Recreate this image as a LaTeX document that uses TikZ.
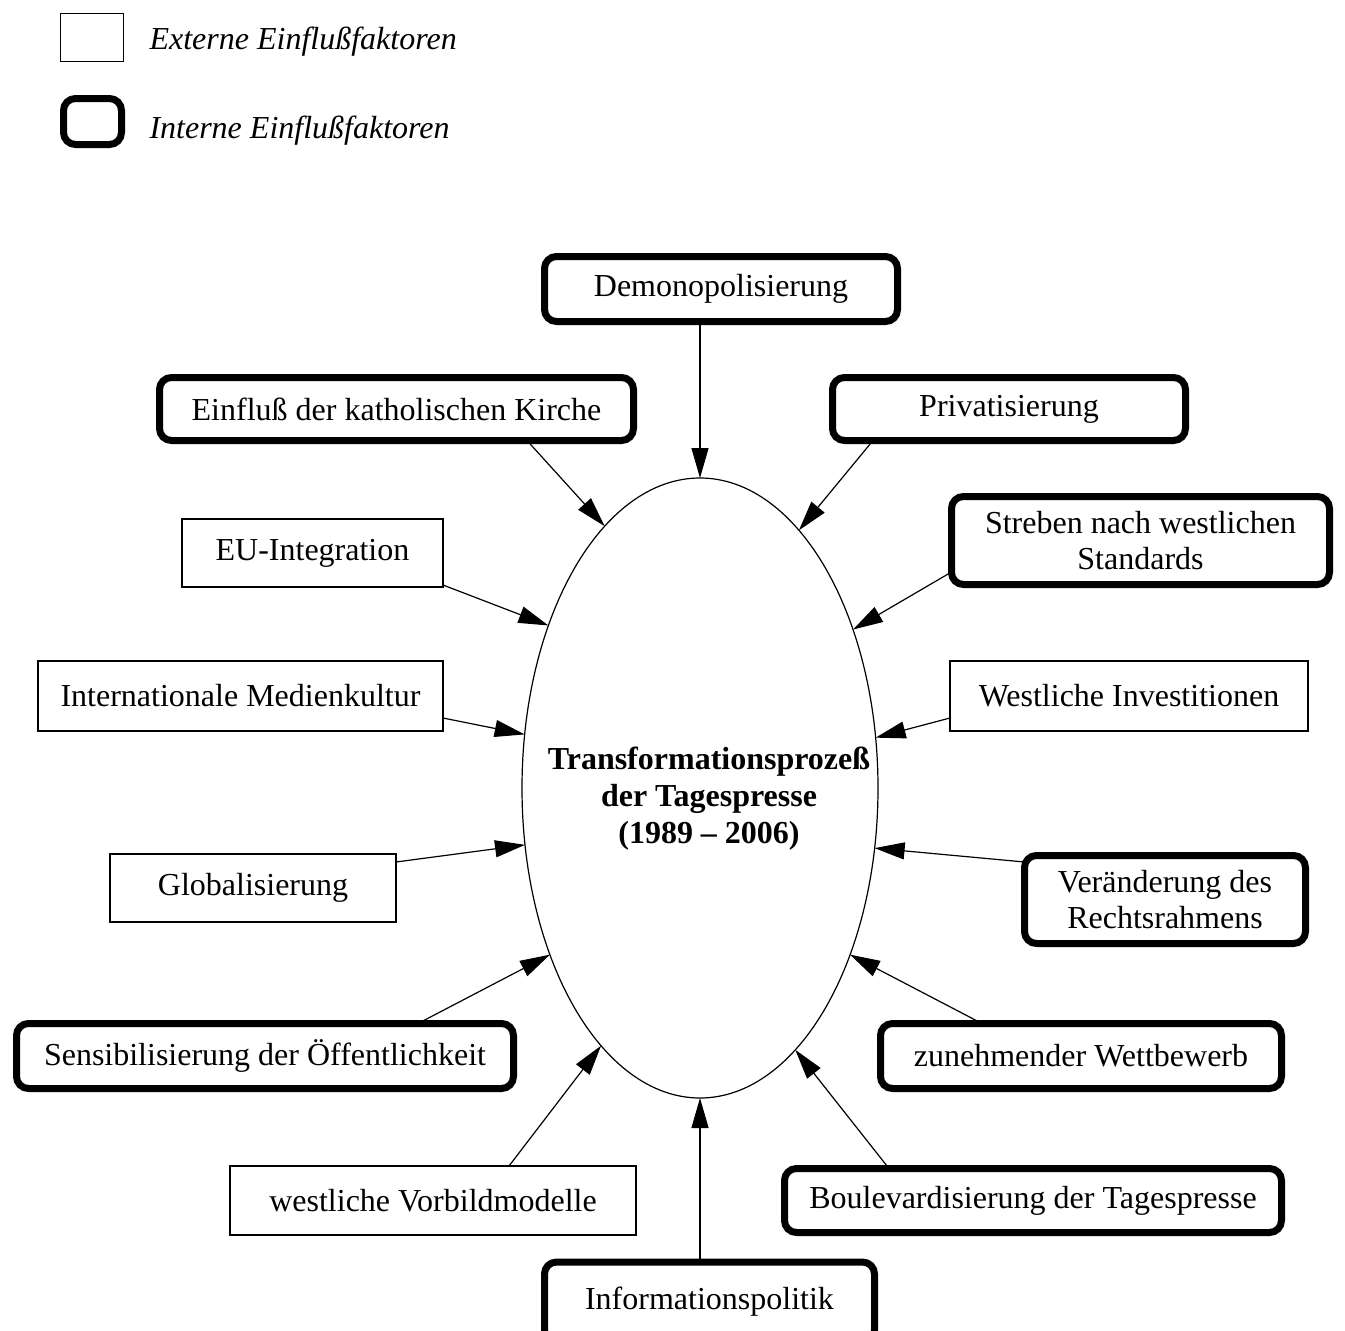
\documentclass[tikz,border=0pt]{standalone}
\usepackage{fontspec}
\setmainfont{Liberation Serif}
\usetikzlibrary{arrows.meta,shapes.geometric}
\tikzset{
  ext/.style={draw, line width=1.5pt, rectangle, inner sep=0pt, outer sep=0pt, align=center, font=\fontsize{32}{36}\selectfont},
  int/.style={draw, line width=7pt, rectangle, rounded corners=12pt, inner sep=0pt, outer sep=0pt, align=center, font=\fontsize{32}{36}\selectfont},
  pfeil/.style={line width=1.2pt, -{Triangle[length=30pt,width=17pt]}}
}
\begin{document}
\begin{tikzpicture}[x=1pt,y=-1pt]
\useasboundingbox (0,0) rectangle (1345,1331);
% Legende
\node[ext, minimum width=63pt, minimum height=48pt] (legext) at (92,37.5){};
\node[int, minimum width=58pt, minimum height=46pt] (legint) at (92.5,121.5){};
\node[anchor=west, font=\fontsize{32}{36}\selectfont\itshape] (legexttxt) at (146,42){Externe Einflußfaktoren};
\node[anchor=west, font=\fontsize{32}{36}\selectfont\itshape] (leginttxt) at (146,131){Interne Einflußfaktoren};
% Mitte
\node[ellipse, draw, line width=1.2pt, inner sep=0pt, outer sep=0pt, minimum width=356pt, minimum height=620pt] (tp) at (700,788){};
\node[align=center, font=\fontsize{32}{37}\selectfont\bfseries] (tptxt) at (709,799){Transformationsprozeß\\der Tagespresse\\(1989 -- 2006)};
% Einflussfaktoren
\node[int, minimum width=353pt, minimum height=65pt] (demo) at (721,289){Demonopolisierung};
\node[int, minimum width=474pt, minimum height=63pt] (kirche) at (396.5,409){Einfluß der katholischen Kirche};
\node[int, minimum width=353pt, minimum height=63pt] (privat) at (1009,409){Privatisierung};
\node[int, minimum width=378pt, minimum height=88pt] (streben) at (1140.5,540.5){Streben nach westlichen\\Standards};
\node[ext, minimum width=261pt, minimum height=68pt] (eu) at (312.5,553){EU-Integration};
\node[ext, minimum width=405pt, minimum height=70pt] (medien) at (240.5,696){Internationale Medienkultur};
\node[ext, minimum width=358pt, minimum height=70pt] (invest) at (1129,696){Westliche Investitionen};
\node[ext, minimum width=286pt, minimum height=68pt] (global) at (253,888){Globalisierung};
\node[int, minimum width=281pt, minimum height=88pt] (recht) at (1165,899.5){Veränderung des\\Rechtsrahmens};
\node[int, minimum width=497pt, minimum height=65pt] (sensib) at (265,1056){Sensibilisierung der Öffentlichkeit};
\node[int, minimum width=401pt, minimum height=65pt] (wettb) at (1081,1056){zunehmender Wettbewerb};
\node[ext, minimum width=406pt, minimum height=69pt] (vorbild) at (433,1200.5){westliche Vorbildmodelle};
\node[int, minimum width=497pt, minimum height=64pt] (boulev) at (1033,1200.5){Boulevardisierung der Tagespresse};
\node[int, minimum width=330pt, minimum height=80pt] (info) at (709.5,1302){Informationspolitik};
% Pfeile
\draw[pfeil] ([xshift=-21pt]demo.south) -- (tp.90);
\draw[pfeil] ([xshift=130.5pt]kirche.south) -- (tp.110.8);
\draw[pfeil] ([xshift=-136pt]privat.south) -- (tp.69.2);
\draw[pfeil] ([yshift=-31.5pt]streben.west) -- (tp.46.6);
\draw[pfeil] ([yshift=2pt]eu.south east) -- (tp.133.2);
\draw[pfeil] ([yshift=-22pt]medien.east) -- (tp.163.4);
\draw[pfeil] ([yshift=-22pt]invest.west) -- (tp.16.8);
\draw[pfeil] ([yshift=26pt]global.east) -- (tp.198.6);
\draw[pfeil] ([yshift=37.5pt]recht.west) -- (tp.341.2);
\draw[pfeil] ([xshift=153pt]sensib.north) -- (tp.228);
\draw[pfeil] ([xshift=-99pt]wettb.north) -- (tp.312);
\draw[pfeil] ([xshift=76pt]vorbild.north) -- (tp.249.6);
\draw[pfeil] ([xshift=-144pt]boulev.north) -- (tp.290.4);
\draw[pfeil] ([xshift=-9.5pt]info.north) -- (tp.270);
\end{tikzpicture}
\end{document}
